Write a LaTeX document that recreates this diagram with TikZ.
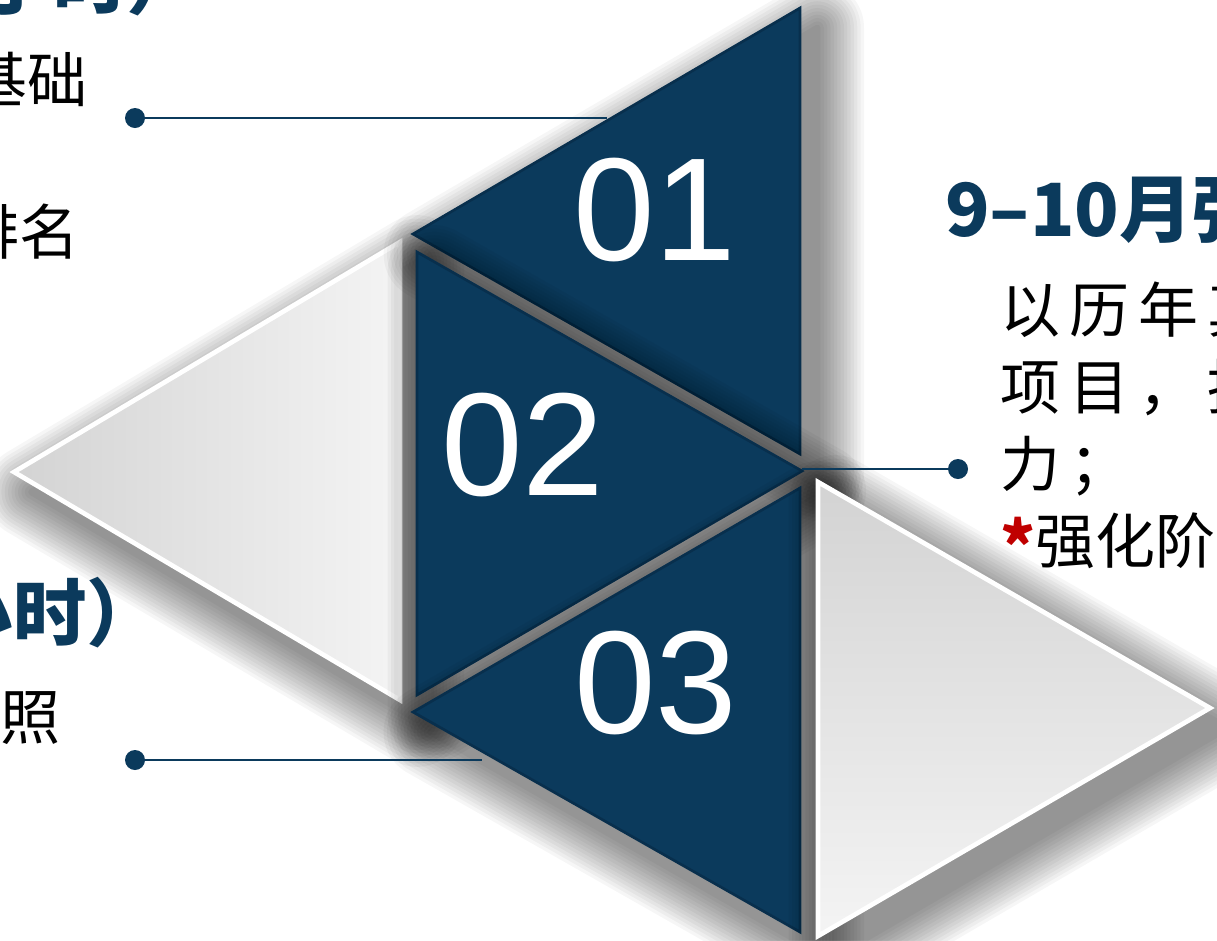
\documentclass[tikz,border=0pt]{standalone}
\usepackage{fontspec}
\newfontfamily\cjk{Noto Sans CJK SC}
\newfontfamily\numfont{Liberation Sans}
\newcommand{\spaced}{\addfontfeature{LetterSpace=15}}
\definecolor{navy}{HTML}{0B3A5C}
\definecolor{navyedge}{HTML}{082F4D}
\definecolor{greydark}{HTML}{D3D3D3}
\definecolor{greylight}{HTML}{F4F4F4}
\definecolor{starred}{HTML}{C00000}
% soft shadow under a triangle, drawn as stacked faint layers
\newcommand{\softshadow}[3]{%
  \begin{scope}[transform canvas={shift={(13pt,-15pt)}}]
    \foreach \w in {5,10,...,70}{
      \begin{scope}[transparency group, opacity=0.037]
        \filldraw[black, line width=\w pt, line join=round] (#1) -- (#2) -- (#3) -- cycle;
      \end{scope}}
  \end{scope}}

\begin{document}
\begin{tikzpicture}[x=0.75pt, y=-0.75pt]
\tikzstyle{navytri}=[fill=navy, draw=navyedge, line width=2pt]
\tikzstyle{greytri}=[draw=white, line width=3.5pt]
\tikzstyle{numtext}=[text=white, inner sep=0, font=\numfont\fontsize{110}{110}\selectfont]
\tikzstyle{headtext}=[text=navy, inner sep=0, font=\cjk\bfseries\fontsize{55}{64}\selectfont]
\tikzstyle{bodytext}=[text=black, inner sep=0, font=\cjk\fontsize{45}{57.75}\selectfont]
\tikzstyle{link}=[draw=navy, line width=2.2pt]
\tikzstyle{dot}=[circle, fill=navy, inner sep=0, minimum size=15pt]

\fill[white] (0,0) rectangle (1217,940);
\useasboundingbox (0,0) rectangle (1217,940);
\clip (0,0) rectangle (1217,940);

% corners of the five triangles
\coordinate (gl) at (14,472);  \coordinate (glt) at (400,242); \coordinate (glb) at (400,700);
\coordinate (t1l) at (413,234); \coordinate (t1t) at (800,8);   \coordinate (t1b) at (800,454);
\coordinate (t2t) at (417,252); \coordinate (t2r) at (802,471); \coordinate (t2b) at (417,695);
\coordinate (t3l) at (413,712); \coordinate (t3t) at (800,488); \coordinate (t3b) at (800,932);
\coordinate (grt) at (818,482); \coordinate (gr) at (1210,708); \coordinate (grb) at (818,936);

\softshadow{gl}{glt}{glb}
\filldraw[greytri, left color=greydark, right color=greylight] (gl) -- (glt) -- (glb) -- cycle;
\softshadow{t1l}{t1t}{t1b}
\filldraw[navytri] (t1l) -- (t1t) -- (t1b) -- cycle;
\softshadow{t2t}{t2r}{t2b}
\filldraw[navytri] (t2t) -- (t2r) -- (t2b) -- cycle;
\softshadow{t3l}{t3t}{t3b}
\filldraw[navytri] (t3l) -- (t3t) -- (t3b) -- cycle;
\softshadow{grt}{gr}{grb}
\filldraw[greytri, top color=greydark, bottom color=greylight] (grt) -- (gr) -- (grb) -- cycle;

\node[numtext] (n1) at (655,210) {01};
\node[numtext] (n2) at (523,445) {02};
\node[numtext] (n3) at (656,683) {03};

% connectors
\node[dot] (d1) at (135,118) {};
\node[dot] (d2) at (958,469) {};
\node[dot] (d3) at (135,760) {};
\coordinate (e1) at (607,118);
\coordinate (e2) at (802,469);
\coordinate (e3) at (482,760);
\draw[link] (d1) -- (e1);
\draw[link] (e2) -- (d2);
\draw[link] (d3) -- (e3);

% texts
\node[headtext, anchor=east] (head1) at (200,-19) {小时）};
\node[bodytext, anchor=east] (body1a) at (88,79) {基础};
\node[bodytext, anchor=east] (body1b) at (80,232) {排名};
\node[headtext, anchor=west] (head2) at (945,211) {9–10月强};
\node[bodytext, anchor=west, align=left] (body2) at (1000,427)
  {{\spaced 以历年真}\\{\spaced 项目，提}\\{\spaced 力；}\\{\color{starred}\bfseries\fontsize{50}{57.75}\selectfont\raisebox{-6pt}{*}}强化阶};
\node[headtext, anchor=east] (head3) at (160,613) {小时）};
\node[bodytext, anchor=east] (body3) at (61,718) {照};
\end{tikzpicture}
\end{document}
